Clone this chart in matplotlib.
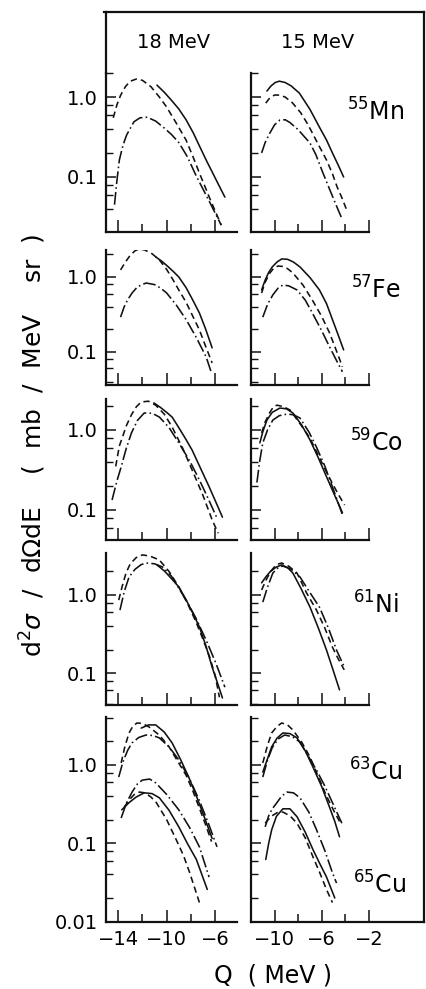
import matplotlib.pyplot as plt
from matplotlib.lines import Line2D

# Q values (MeV) and d2sigma/dOmega dE (mb/MeV sr)
# 55Mn, 18 MeV
mn_18_solid_q = [-10.8, -10.2, -9.6, -9.0, -8.4, -7.8, -7.3, -6.7, -6.2, -5.7, -5.2]
mn_18_solid_v = [1.41, 1.15, 0.91, 0.71, 0.52, 0.355, 0.245, 0.158, 0.112, 0.079, 0.056]
mn_18_dash_q = [-14.4, -14.1, -13.8, -13.4, -13.0, -12.5, -12.0, -11.3, -10.6, -10.0, -9.2, -8.4, -7.8, -7.3, -6.4, -5.5]
mn_18_dash_v = [0.55, 0.80, 1.05, 1.35, 1.58, 1.68, 1.62, 1.35, 1.0, 0.75, 0.47, 0.29, 0.175, 0.112, 0.052, 0.025]
mn_18_dot_q = [-14.3, -14.1, -13.9, -13.6, -13.3, -12.7, -12.2, -11.6, -10.9, -10.2, -9.6, -9.0, -8.3, -7.6, -6.5, -5.5]
mn_18_dot_v = [0.045, 0.09, 0.163, 0.25, 0.335, 0.49, 0.55, 0.56, 0.50, 0.41, 0.34, 0.27, 0.18, 0.106, 0.05, 0.025]
# 55Mn, 15 MeV
mn_15_solid_q = [-10.65, -10.3, -9.95, -9.6, -9.1, -8.6, -7.9, -7.0, -6.2, -5.6, -5.1, -4.6, -4.15]
mn_15_solid_v = [1.19, 1.38, 1.52, 1.58, 1.52, 1.38, 1.12, 0.70, 0.42, 0.29, 0.20, 0.14, 0.10]
mn_15_dash_q = [-10.75, -10.4, -10.0, -9.6, -9.1, -8.5, -7.8, -7.2, -6.8, -6.2, -5.6, -5.1, -4.7, -4.3, -3.9]
mn_15_dash_v = [0.84, 0.98, 1.06, 1.06, 1.0, 0.85, 0.64, 0.46, 0.355, 0.24, 0.163, 0.11, 0.075, 0.055, 0.039]
mn_15_dot_q = [-11.1, -10.8, -10.4, -10.0, -9.55, -9.1, -8.7, -8.0, -7.4, -7.0, -6.5, -5.9, -5.3, -4.8, -4.25]
mn_15_dot_v = [0.2, 0.27, 0.355, 0.45, 0.516, 0.52, 0.48, 0.39, 0.31, 0.266, 0.19, 0.112, 0.068, 0.045, 0.029]

# 57Fe, 18 MeV
fe_18_solid_q = [-10.9, -10.4, -9.9, -9.4, -9.0, -8.4, -7.9, -7.3, -6.8, -6.25]
fe_18_solid_v = [1.85, 1.62, 1.38, 1.16, 1.0, 0.72, 0.51, 0.33, 0.204, 0.113]
fe_18_dash_q = [-13.8, -13.4, -13.0, -12.6, -12.25, -11.8, -11.2, -10.6, -10.0, -9.5, -9.0, -8.4, -7.85, -7.3, -6.8, -6.25]
fe_18_dash_v = [1.24, 1.58, 1.95, 2.24, 2.36, 2.29, 2.04, 1.69, 1.26, 0.93, 0.67, 0.46, 0.30, 0.196, 0.12, 0.071]
fe_18_dot_q = [-13.8, -13.5, -13.2, -12.85, -12.4, -11.7, -11.0, -10.5, -10.0, -9.2, -8.4, -7.6, -6.75, -6.3]
fe_18_dot_v = [0.29, 0.40, 0.50, 0.61, 0.74, 0.83, 0.79, 0.71, 0.61, 0.42, 0.27, 0.16, 0.086, 0.052]
# 57Fe, 15 MeV
fe_15_solid_q = [-11.1, -10.8, -10.5, -10.2, -9.8, -9.4, -8.9, -8.4, -7.85, -7.0, -6.2, -5.6, -5.1, -4.6, -4.15]
fe_15_solid_v = [0.67, 0.91, 1.15, 1.36, 1.58, 1.74, 1.72, 1.58, 1.36, 0.98, 0.67, 0.44, 0.27, 0.166, 0.106]
fe_15_dash_q = [-11.1, -10.8, -10.4, -10.05, -9.7, -9.3, -8.9, -8.45, -7.6, -6.8, -6.0, -5.35, -4.8, -4.25]
fe_15_dash_v = [0.61, 0.85, 1.13, 1.32, 1.40, 1.38, 1.29, 1.13, 0.78, 0.49, 0.295, 0.18, 0.107, 0.063]
fe_15_dot_q = [-11.0, -10.6, -10.15, -9.7, -9.3, -8.8, -8.1, -7.4, -6.8, -6.0, -5.35, -4.8, -4.25]
fe_15_dot_v = [0.29, 0.43, 0.575, 0.71, 0.78, 0.76, 0.67, 0.49, 0.33, 0.19, 0.117, 0.079, 0.054]

# 59Co, 18 MeV
co_18_solid_q = [-11.05, -10.5, -10.0, -9.55, -9.0, -8.45, -7.9, -7.2, -6.5, -5.95, -5.4]
co_18_solid_v = [2.18, 1.91, 1.66, 1.45, 1.07, 0.78, 0.56, 0.33, 0.195, 0.126, 0.081]
co_18_dash_q = [-14.2, -13.9, -13.6, -13.3, -12.9, -12.5, -12.1, -11.5, -10.9, -10.2, -9.55, -8.7, -7.9, -7.0, -6.25, -5.75]
co_18_dash_v = [0.35, 0.63, 0.85, 1.15, 1.55, 1.95, 2.24, 2.29, 2.04, 1.58, 1.09, 0.60, 0.316, 0.151, 0.075, 0.051]
co_18_dot_q = [-14.5, -14.1, -13.75, -13.35, -12.9, -12.4, -11.85, -11.2, -10.6, -9.8, -9.0, -8.1, -7.3, -6.6, -5.9]
co_18_dot_v = [0.133, 0.23, 0.345, 0.575, 0.92, 1.32, 1.63, 1.62, 1.45, 1.07, 0.69, 0.41, 0.237, 0.141, 0.082]
# 59Co, 15 MeV
co_15_solid_q = [-11.25, -11.0, -10.65, -10.2, -9.55, -9.0, -8.45, -7.7, -7.0, -6.3, -5.6, -4.9, -4.25]
co_15_solid_v = [0.69, 0.95, 1.33, 1.66, 1.88, 1.84, 1.63, 1.15, 0.75, 0.45, 0.26, 0.151, 0.092]
co_15_dash_q = [-11.1, -10.8, -10.4, -10.1, -9.8, -9.3, -8.7, -7.9, -7.0, -6.2, -5.4, -4.7, -4.07]
co_15_dash_v = [0.92, 1.26, 1.66, 1.95, 2.04, 1.97, 1.78, 1.23, 0.79, 0.45, 0.26, 0.166, 0.115]
co_15_dot_q = [-11.5, -11.25, -11.0, -10.6, -10.15, -9.6, -8.95, -8.4, -7.85, -7.1, -6.45, -5.75, -5.1, -4.25]
co_15_dot_v = [0.22, 0.42, 0.69, 1.0, 1.33, 1.51, 1.58, 1.55, 1.41, 0.95, 0.61, 0.355, 0.194, 0.087]

# 61Ni, 18 MeV
ni_18_solid_q = [-10.8, -10.2, -9.6, -9.0, -8.4, -7.85, -7.3, -6.75, -6.25, -5.8, -5.4]
ni_18_solid_v = [2.43, 2.04, 1.62, 1.27, 0.87, 0.59, 0.39, 0.22, 0.119, 0.074, 0.048]
ni_18_dash_q = [-13.95, -13.65, -13.35, -13.0, -12.5, -12.0, -11.4, -10.6, -9.8, -9.0, -8.3, -7.6, -7.0, -6.45, -6.0, -5.65]
ni_18_dash_v = [0.86, 1.32, 1.91, 2.51, 3.02, 3.26, 3.16, 2.81, 2.0, 1.27, 0.79, 0.46, 0.27, 0.16, 0.093, 0.049]
ni_18_dot_q = [-13.85, -13.5, -13.1, -12.6, -12.1, -11.7, -11.0, -10.35, -9.6, -8.4, -7.6, -6.75, -5.95, -5.2]
ni_18_dot_v = [0.64, 1.10, 1.70, 2.14, 2.45, 2.57, 2.51, 2.29, 1.74, 0.86, 0.51, 0.265, 0.135, 0.066]
# 61Ni, 15 MeV
ni_15_solid_q = [-11.1, -10.75, -10.4, -9.9, -9.4, -8.9, -8.45, -7.75, -7.0, -6.3, -5.6, -5.05, -4.5]
ni_15_solid_v = [1.43, 1.70, 1.97, 2.26, 2.43, 2.24, 1.91, 1.20, 0.70, 0.38, 0.197, 0.11, 0.061]
ni_15_dash_q = [-11.1, -10.7, -10.3, -9.85, -9.4, -8.8, -8.1, -7.3, -6.45, -5.75, -5.1, -4.6, -4.1]
ni_15_dash_v = [1.16, 1.58, 2.04, 2.45, 2.57, 2.34, 1.91, 1.07, 0.64, 0.38, 0.215, 0.151, 0.11]
ni_15_dot_q = [-11.0, -10.6, -10.15, -9.7, -9.3, -8.6, -7.85, -7.0, -6.2, -5.45, -4.75, -4.1]
ni_15_dot_v = [0.81, 1.26, 1.91, 2.24, 2.35, 2.14, 1.70, 1.07, 0.70, 0.38, 0.197, 0.12]

# 63Cu, 18 MeV
cu63_18_solid_q = [-12.1, -11.5, -10.9, -10.2, -9.55, -8.85, -8.15, -7.6, -7.05, -6.6, -6.25]
cu63_18_solid_v = [2.95, 3.24, 3.24, 2.63, 1.91, 1.17, 0.68, 0.42, 0.25, 0.162, 0.115]
cu63_18_dash_q = [-13.75, -13.45, -13.1, -12.8, -12.45, -12.0, -11.45, -10.6, -9.8, -9.1, -8.4, -7.85, -7.3, -6.8, -6.3]
cu63_18_dash_v = [1.06, 1.70, 2.56, 3.09, 3.43, 3.39, 3.05, 2.40, 1.70, 1.12, 0.74, 0.47, 0.28, 0.174, 0.105]
cu63_18_dot_q = [-13.95, -13.6, -13.2, -12.85, -12.3, -11.7, -11.1, -10.6, -9.8, -9.0, -8.1, -7.3, -6.55, -5.85]
cu63_18_dot_v = [0.70, 1.10, 1.55, 1.91, 2.24, 2.41, 2.37, 2.21, 1.70, 1.16, 0.66, 0.35, 0.178, 0.09]
# 65Cu, 18 MeV
cu65_18_solid_q = [-13.7, -13.1, -12.5, -11.85, -11.2, -10.6, -9.8, -9.0, -8.3, -7.55, -6.65]
cu65_18_solid_v = [0.267, 0.33, 0.39, 0.44, 0.43, 0.38, 0.263, 0.162, 0.10, 0.062, 0.0257]
cu65_18_dash_q = [-13.5, -13.0, -12.6, -12.25, -11.8, -11.3, -10.85, -10.0, -9.2, -8.6, -8.1, -7.3]
cu65_18_dash_v = [0.29, 0.37, 0.43, 0.45, 0.44, 0.39, 0.33, 0.20, 0.11, 0.069, 0.042, 0.0175]
cu65_18_dot_q = [-13.75, -13.3, -12.85, -12.4, -12.0, -11.4, -10.9, -10.0, -9.0, -8.1, -7.3, -6.5]
cu65_18_dot_v = [0.21, 0.33, 0.45, 0.575, 0.64, 0.66, 0.59, 0.42, 0.267, 0.158, 0.09, 0.037]
# 63Cu, 15 MeV
cu63_15_solid_q = [-11.0, -10.6, -10.25, -9.8, -9.3, -8.7, -8.1, -7.4, -6.75, -6.0, -5.35, -4.9, -4.5]
cu63_15_solid_v = [0.81, 1.20, 1.70, 2.19, 2.56, 2.51, 2.21, 1.51, 0.94, 0.525, 0.29, 0.19, 0.121]
cu63_15_dash_q = [-11.0, -10.6, -10.25, -9.8, -9.4, -8.9, -8.45, -7.7, -7.0, -6.3, -5.6, -5.0, -4.5]
cu63_15_dash_v = [1.06, 1.78, 2.56, 3.09, 3.43, 3.24, 2.79, 1.95, 1.26, 0.71, 0.40, 0.263, 0.19]
cu63_15_dot_q = [-11.0, -10.6, -10.2, -9.7, -9.15, -8.5, -7.85, -7.1, -6.45, -5.75, -5.1, -4.3]
cu63_15_dot_v = [0.70, 1.15, 1.66, 2.14, 2.41, 2.29, 1.96, 1.26, 0.86, 0.54, 0.33, 0.18]
# 65Cu, 15 MeV
cu65_15_solid_q = [-10.75, -10.5, -10.25, -9.85, -9.3, -8.7, -8.1, -7.4, -6.75, -6.2, -5.6, -4.9]
cu65_15_solid_v = [0.062, 0.1, 0.148, 0.22, 0.275, 0.275, 0.218, 0.138, 0.083, 0.056, 0.037, 0.02]
cu65_15_dash_q = [-10.8, -10.3, -9.8, -9.3, -8.7, -8.1, -7.4, -6.75, -6.2, -5.6, -5.1]
cu65_15_dash_v = [0.18, 0.22, 0.245, 0.25, 0.224, 0.18, 0.117, 0.067, 0.043, 0.0256, 0.0175]
cu65_15_dot_q = [-10.8, -10.5, -10.2, -9.8, -9.4, -8.95, -8.4, -7.85, -7.1, -6.45, -5.75, -5.1, -4.75]
cu65_15_dot_v = [0.162, 0.224, 0.275, 0.33, 0.40, 0.45, 0.44, 0.38, 0.25, 0.149, 0.081, 0.042, 0.031]

energies = ['18 MeV', '15 MeV']
isotopes = [r'$^{55}$Mn', r'$^{57}$Fe', r'$^{59}$Co', r'$^{61}$Ni', r'$^{63}$Cu']
extra_isotope = r'$^{65}$Cu'
left_xticks = [-14, -10, -6]
left_xticks_minor = [-12, -8]
left_xticklabels = ['\u221214', '\u221210', '\u22126']
right_xticks = [-10, -6, -2]
right_xticks_minor = [-8, -4]
right_xticklabels = ['\u221210', '\u22126', '\u22122']

W, H = 426, 989
fig = plt.figure(figsize=(W / 100, H / 100), dpi=100)

# panel rows: top px, bottom px, y limits
rows = [(73, 232, (0.0205, 2.0)),
        (250, 385, (0.036, 2.29)),
        (399, 540, (0.042, 2.44)),
        (553, 705, (0.039, 3.45)),
        (717, 922, (0.00987, 4.09))]

curves = [
    [[(mn_18_solid_q, mn_18_solid_v, '-'), (mn_18_dash_q, mn_18_dash_v, '--'), (mn_18_dot_q, mn_18_dot_v, '-.')],
     [(mn_15_solid_q, mn_15_solid_v, '-'), (mn_15_dash_q, mn_15_dash_v, '--'), (mn_15_dot_q, mn_15_dot_v, '-.')]],
    [[(fe_18_solid_q, fe_18_solid_v, '-'), (fe_18_dash_q, fe_18_dash_v, '--'), (fe_18_dot_q, fe_18_dot_v, '-.')],
     [(fe_15_solid_q, fe_15_solid_v, '-'), (fe_15_dash_q, fe_15_dash_v, '--'), (fe_15_dot_q, fe_15_dot_v, '-.')]],
    [[(co_18_solid_q, co_18_solid_v, '-'), (co_18_dash_q, co_18_dash_v, '--'), (co_18_dot_q, co_18_dot_v, '-.')],
     [(co_15_solid_q, co_15_solid_v, '-'), (co_15_dash_q, co_15_dash_v, '--'), (co_15_dot_q, co_15_dot_v, '-.')]],
    [[(ni_18_solid_q, ni_18_solid_v, '-'), (ni_18_dash_q, ni_18_dash_v, '--'), (ni_18_dot_q, ni_18_dot_v, '-.')],
     [(ni_15_solid_q, ni_15_solid_v, '-'), (ni_15_dash_q, ni_15_dash_v, '--'), (ni_15_dot_q, ni_15_dot_v, '-.')]],
    [[(cu63_18_solid_q, cu63_18_solid_v, '-'), (cu63_18_dash_q, cu63_18_dash_v, '--'), (cu63_18_dot_q, cu63_18_dot_v, '-.'),
      (cu65_18_solid_q, cu65_18_solid_v, '-'), (cu65_18_dash_q, cu65_18_dash_v, '--'), (cu65_18_dot_q, cu65_18_dot_v, '-.')],
     [(cu63_15_solid_q, cu63_15_solid_v, '-'), (cu63_15_dash_q, cu63_15_dash_v, '--'), (cu63_15_dot_q, cu63_15_dot_v, '-.'),
      (cu65_15_solid_q, cu65_15_solid_v, '-'), (cu65_15_dash_q, cu65_15_dash_v, '--'), (cu65_15_dot_q, cu65_15_dot_v, '-.')]],
]

dash_styles = {'-': None, '--': (4, 2.5), '-.': (8, 2, 1, 2)}
lw = 1.15
ink = '#111111'


def fx(px):
    return px / W


def fy(py):
    return 1 - py / H


for r, (top, bot, ylim) in enumerate(rows):
    for c in range(2):
        if c == 0:
            x0, x1, xlim = 106, 237, (-15, -4.2)
            ticks, minor_ticks, labels = left_xticks, left_xticks_minor, left_xticklabels
        else:
            x0 = 251
            x1 = 424 if r == 4 else 369
            xlim = (-12, -12 + (x1 - x0) / 11.8)
            ticks, minor_ticks, labels = right_xticks, right_xticks_minor, right_xticklabels
        ax = fig.add_axes([fx(x0), fy(bot), fx(x1) - fx(x0), (bot - top) / H])
        for q, v, ls in curves[r][c]:
            line, = ax.plot(q, v, color=ink, lw=lw, solid_capstyle='round')
            if dash_styles[ls]:
                line.set_dashes(dash_styles[ls])
        ax.set_yscale('log')
        ax.set_xlim(*xlim)
        ax.set_ylim(*ylim)
        for s in ['top', 'right']:
            ax.spines[s].set_visible(False)
        for s in ['left', 'bottom']:
            ax.spines[s].set_linewidth(1.6)
            ax.spines[s].set_color(ink)
        ax.set_xticks(ticks)
        ax.set_xticks(minor_ticks, minor=True)
        yt = [0.01, 0.1, 1.0] if r == 4 else [0.1, 1.0]
        ax.set_yticks(yt)
        minors = [m * d for d in [0.01, 0.1, 1.0] for m in [2, 4, 6, 8]]
        ax.set_yticks([m for m in minors if ylim[0] < m < ylim[1] * 1.05], minor=True)
        ax.tick_params(axis='x', which='major', direction='in', length=8.5, width=1.1, color=ink)
        ax.tick_params(axis='x', which='minor', direction='in', length=6, width=1.1, color=ink)
        ax.tick_params(axis='y', which='major', direction='in', length=7, width=1.1, color=ink)
        ax.tick_params(axis='y', which='minor', direction='in', length=5, width=1.0, color=ink)
        if r == 4:
            ax.set_xticklabels(labels, fontsize=14)
        else:
            ax.set_xticklabels([])
        if c == 0:
            ax.set_yticklabels(['0.01', '0.1', '1.0'][-len(yt):], fontsize=14)
        else:
            ax.set_yticklabels([])
        ax.tick_params(axis='both', which='major', pad=6)
        ax.set_facecolor('none')

# outer frame
frame = [((104, 424), (12, 12)), ((106, 106), (12, 73)), ((424, 424), (12, 922))]
for xs, ys in frame:
    fig.add_artist(Line2D([fx(x) for x in xs], [fy(y) for y in ys], color=ink, lw=1.6))

fig.text(fx(174), fy(43), energies[0], fontsize=14, ha='center', va='center')
fig.text(fx(318), fy(43), energies[1], fontsize=14, ha='center', va='center')

iso_y = [112, 290, 443, 605, 772]
for yy, lab in zip(iso_y, isotopes):
    fig.text(fx(376), fy(yy), lab, fontsize=17, ha='center', va='center')
fig.text(fx(380), fy(885), extra_isotope, fontsize=17, ha='center', va='center')

fig.text(fx(33), fy(445), r'd$^2\sigma$  /  d$\Omega$dE    (  mb  /  MeV    sr  )',
         rotation=90, fontsize=18, ha='center', va='center')
fig.text(fx(273), fy(975), 'Q  ( MeV )', fontsize=17, ha='center', va='center')

fig.savefig('out.png', dpi=100)
